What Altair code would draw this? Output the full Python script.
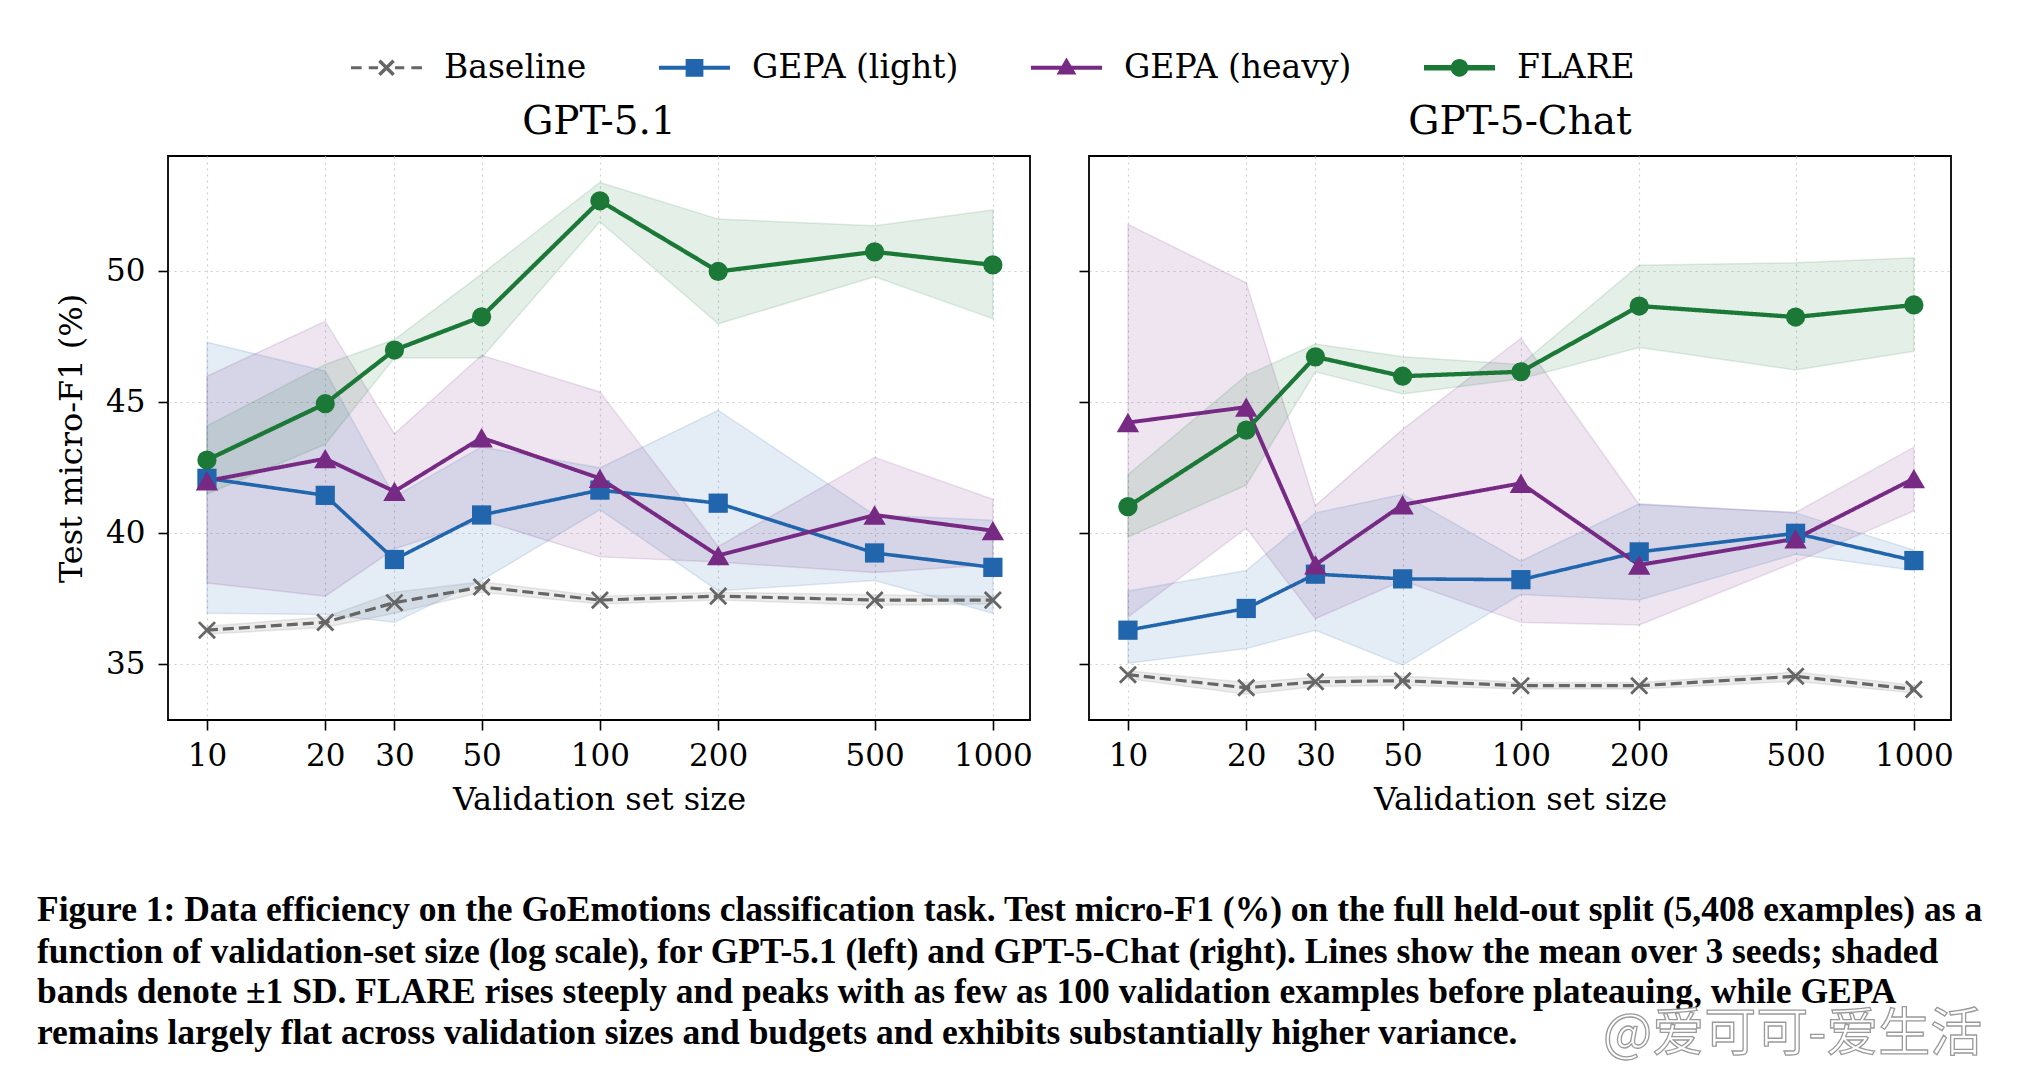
import altair as alt
import pandas as pd

# ---------------- data ----------------
sizes = [10, 20, 30, 50, 100, 200, 500, 1000]
methods = ["Baseline", "GEPA (light)", "GEPA (heavy)", "FLARE"]
colors = ["#666666", "#2166ac", "#762a83", "#1b7837"]
panel_titles = ["GPT-5.1", "GPT-5-Chat"]
x_ticks = [10, 20, 30, 50, 100, 200, 500, 1000]
y_ticks = [35, 40, 45, 50]

# GPT-5.1 (left panel): mean, lower band, upper band
l_base_mean = [36.3, 36.6, 37.35, 37.95, 37.45, 37.6, 37.45, 37.45]
l_base_lo = [36.15, 36.4, 36.95, 37.75, 37.3, 37.45, 37.25, 37.3]
l_base_hi = [36.45, 36.8, 37.75, 38.15, 37.6, 37.75, 37.65, 37.6]
l_light_mean = [42.1, 41.45, 39.0, 40.7, 41.65, 41.15, 39.25, 38.7]
l_light_lo = [36.95, 36.9, 36.6, 38.2, 40.9, 37.8, 38.2, 36.95]
l_light_hi = [47.3, 46.2, 41.4, 43.3, 42.5, 44.7, 40.7, 40.5]
l_heavy_mean = [42.0, 42.85, 41.6, 43.65, 42.1, 39.15, 40.7, 40.1]
l_heavy_lo = [38.1, 37.6, 39.4, 40.5, 39.1, 38.9, 38.5, 38.8]
l_heavy_hi = [46.0, 48.1, 43.8, 46.8, 45.4, 39.5, 42.9, 41.3]
l_flare_mean = [42.8, 44.95, 47.0, 48.27, 52.7, 50.0, 50.75, 50.25]
l_flare_lo = [41.5, 43.4, 46.7, 46.7, 51.9, 48.0, 49.8, 48.2]
l_flare_hi = [44.1, 46.45, 47.4, 49.9, 53.4, 52.0, 51.75, 52.35]

# GPT-5-Chat (right panel)
r_base_mean = [34.6, 34.1, 34.33, 34.37, 34.18, 34.18, 34.54, 34.04]
r_base_lo = [34.45, 33.85, 34.15, 34.2, 34.05, 34.05, 34.35, 33.9]
r_base_hi = [34.75, 34.3, 34.5, 34.55, 34.3, 34.3, 34.7, 34.2]
r_light_mean = [36.3, 37.13, 38.44, 38.26, 38.23, 39.29, 40.0, 38.96]
r_light_lo = [35.04, 35.6, 36.3, 34.96, 37.66, 37.45, 39.2, 38.58]
r_light_hi = [37.8, 38.58, 40.78, 41.49, 38.94, 41.13, 40.78, 39.36]
r_heavy_mean = [44.23, 44.82, 38.8, 41.09, 41.91, 38.79, 39.79, 42.09]
r_heavy_lo = [36.8, 40.2, 36.74, 38.2, 36.6, 36.5, 38.9, 40.85]
r_heavy_hi = [51.8, 49.57, 41.06, 43.97, 47.45, 41.1, 40.8, 43.29]
r_flare_mean = [41.02, 43.94, 46.74, 46.0, 46.17, 48.68, 48.26, 48.72]
r_flare_lo = [39.86, 41.84, 46.17, 45.32, 45.9, 47.1, 46.24, 46.95]
r_flare_hi = [42.24, 46.03, 47.23, 46.74, 46.45, 50.24, 50.33, 50.52]

caption_lines = [
    "Figure 1: Data efficiency on the GoEmotions classification task. Test micro-F1 (%) on the full held-out split (5,408 examples) as a",
    "function of validation-set size (log scale), for GPT-5.1 (left) and GPT-5-Chat (right). Lines show the mean over 3 seeds; shaded",
    "bands denote \u00b11 SD. FLARE rises steeply and peaks with as few as 100 validation examples before plateauing, while GEPA",
    "remains largely flat across validation sizes and budgets and exhibits substantially higher variance.",
]
watermark = "@爱可可-爱生活"


def build_df(series):
    rows = []
    for m, (mean, lo, hi) in zip(methods, series):
        for n, a, b, c in zip(sizes, mean, lo, hi):
            rows.append({"method": m, "n": n, "mean": a, "lo": b, "hi": c})
    return pd.DataFrame(rows)


left_df = build_df([
    (l_base_mean, l_base_lo, l_base_hi),
    (l_light_mean, l_light_lo, l_light_hi),
    (l_heavy_mean, l_heavy_lo, l_heavy_hi),
    (l_flare_mean, l_flare_lo, l_flare_hi),
])
right_df = build_df([
    (r_base_mean, r_base_lo, r_base_hi),
    (r_light_mean, r_light_lo, r_light_hi),
    (r_heavy_mean, r_heavy_lo, r_heavy_hi),
    (r_flare_mean, r_flare_lo, r_flare_hi),
])

# ---------------- styling ----------------
W, H = 862, 564
SERIF = "DejaVu Serif"

x_scale = alt.Scale(type="log", domain=[7.96, 1243], nice=False)
y_scale = alt.Scale(domain=[32.87, 54.41], nice=False, zero=False)
color_scale = alt.Scale(domain=methods, range=colors)


def rect(x0, x1, h):
    return f"M{x0},{-h}H{x1}V{h}H{x0}Z"


def xmark(a, d):
    r1 = f"M{-a + d},{-a - d}L{a + d},{a - d}L{a - d},{a + d}L{-a - d},{-a + d}Z"
    r2 = f"M{-a - d},{a - d}L{a - d},{-a - d}L{a + d},{-a + d}L{-a + d},{a + d}Z"
    return r1 + r2


legend_paths = [
    rect(-1, -0.7, 0.045) + rect(-0.5, -0.24, 0.045) + rect(0.24, 0.5, 0.045)
    + rect(0.7, 1, 0.045) + xmark(0.2, 0.035),
    rect(-1, 1, 0.058) + "M-0.25,-0.25H0.25V0.25H-0.25Z",
    rect(-1, 1, 0.058) + "M0,-0.29L0.28,0.19H-0.28Z",
    rect(-1, 1, 0.075)
    + "M-0.25,0A0.25,0.25 0 1,1 0.25,0A0.25,0.25 0 1,1 -0.25,0Z",
]

marker_specs = {
    "Baseline": dict(shape="M-1,-1L1,1M-1,1L1,-1", size=260, filled=False, strokeWidth=2.8),
    "GEPA (light)": dict(shape="square", size=370, filled=True),
    "GEPA (heavy)": dict(shape="triangle-up", size=500, filled=True),
    "FLARE": dict(shape="circle", size=370, filled=True),
}


def text_layer(txt, x, y, **kw):
    return (
        alt.Chart(pd.DataFrame({"t": [txt]}))
        .mark_text(**kw)
        .encode(text="t:N", x=alt.value(x), y=alt.value(y))
    )


def panel(df, title, left):
    base = alt.Chart(df)
    x_enc = alt.X(
        "n:Q", scale=x_scale,
        axis=alt.Axis(values=x_ticks, format="d", title="Validation set size",
                      labelFlush=False, labelOverlap=False, titlePadding=13,
                      labelPadding=11),
    )
    if left:
        y_axis = alt.Axis(values=y_ticks, title="Test micro-F1 (%)", labelPadding=13,
                          titlePadding=17)
    else:
        y_axis = alt.Axis(values=y_ticks, title=None, labels=False)

    bands = base.mark_area(fillOpacity=0.12, strokeOpacity=0.13, strokeWidth=1.5).encode(
        x=x_enc,
        y=alt.Y("lo:Q", scale=y_scale, axis=y_axis),
        y2="hi:Q",
        color=alt.Color("method:N", scale=color_scale, legend=None),
        stroke=alt.Stroke("method:N", scale=color_scale, legend=None),
    )
    lines = base.mark_line().encode(
        x=x_enc,
        y=alt.Y("mean:Q", scale=y_scale, axis=y_axis),
        color=alt.Color("method:N", scale=color_scale, legend=None),
        strokeDash=alt.StrokeDash(
            "method:N",
            scale=alt.Scale(domain=methods, range=[[11, 5], [1, 0], [1, 0], [1, 0]]),
            legend=None),
        strokeWidth=alt.StrokeWidth(
            "method:N", scale=alt.Scale(domain=methods, range=[3.2, 4.3, 4.3, 6.0]),
            legend=None),
    )
    layers = [bands, lines]
    for m in methods:
        spec = marker_specs[m]
        layers.append(
            base.transform_filter(alt.datum.method == m)
            .mark_point(opacity=1, **spec)
            .encode(
                x=x_enc,
                y=alt.Y("mean:Q", scale=y_scale, axis=y_axis),
                color=alt.Color("method:N", scale=color_scale, legend=None),
            )
        )
    # panel title
    layers.append(text_layer(title, W / 2, -34, font=SERIF, fontSize=39,
                             align="center", baseline="middle", color="black"))
    if left:
        leg = alt.Legend(
            orient="none", legendX=183, legendY=-124, direction="horizontal",
            columns=4, title=None, symbolSize=5041, symbolStrokeWidth=0,
            symbolOpacity=1, labelFont=SERIF, labelFontSize=33, labelColor="black",
            labelOffset=22, columnPadding=72, labelLimit=600, padding=0,
        )
        layers.append(
            base.transform_filter("datum.n < 0")
            .mark_point(filled=True, opacity=1)
            .encode(
                x=x_enc,
                y=alt.Y("mean:Q", scale=y_scale, axis=y_axis),
                fill=alt.Fill("method:N", scale=alt.Scale(domain=methods, range=colors), legend=leg),
                shape=alt.Shape("method:N", scale=alt.Scale(domain=methods, range=legend_paths), legend=leg),
            )
        )
        cap_y = [765, 807, 847, 888]
        for line, yy in zip(caption_lines, cap_y):
            layers.append(text_layer(line, -131, yy, font="Liberation Serif",
                                     fontWeight="bold", fontSize=35.5, align="left",
                                     baseline="alphabetic", color="black"))
    else:
        layers.append(text_layer(watermark, 514, 879, font="Noto Sans CJK SC",
                                 fontSize=52, align="left", baseline="middle",
                                 fill="white", stroke="#9a9a9a", strokeWidth=1.3))
    return alt.layer(*layers).properties(width=W, height=H)


left = panel(left_df, panel_titles[0], True)
right = panel(right_df, panel_titles[1], False)

chart = (
    alt.hconcat(left, right, spacing=59, bounds="flush")
    .resolve_scale(x="independent", y="independent", fill="independent", shape="independent")
    .resolve_legend(fill="independent", shape="independent")
    .properties(padding={"left": 28, "top": 23, "right": 5, "bottom": 5}, background="white")
    .configure_view(stroke="black", strokeWidth=1.8)
    .configure_axis(
        labelFont=SERIF, labelFontSize=31, labelColor="black",
        titleFont=SERIF, titleFontSize=32, titleFontWeight="normal", titleColor="black",
        tickColor="black", tickWidth=1.6, tickSize=10, domain=False,
        grid=True, gridColor="#cfcfcf", gridDash=[2, 4], gridWidth=1.2,
    )
)

chart.save("out.html", embed_options={"renderer": "svg", "actions": False})
